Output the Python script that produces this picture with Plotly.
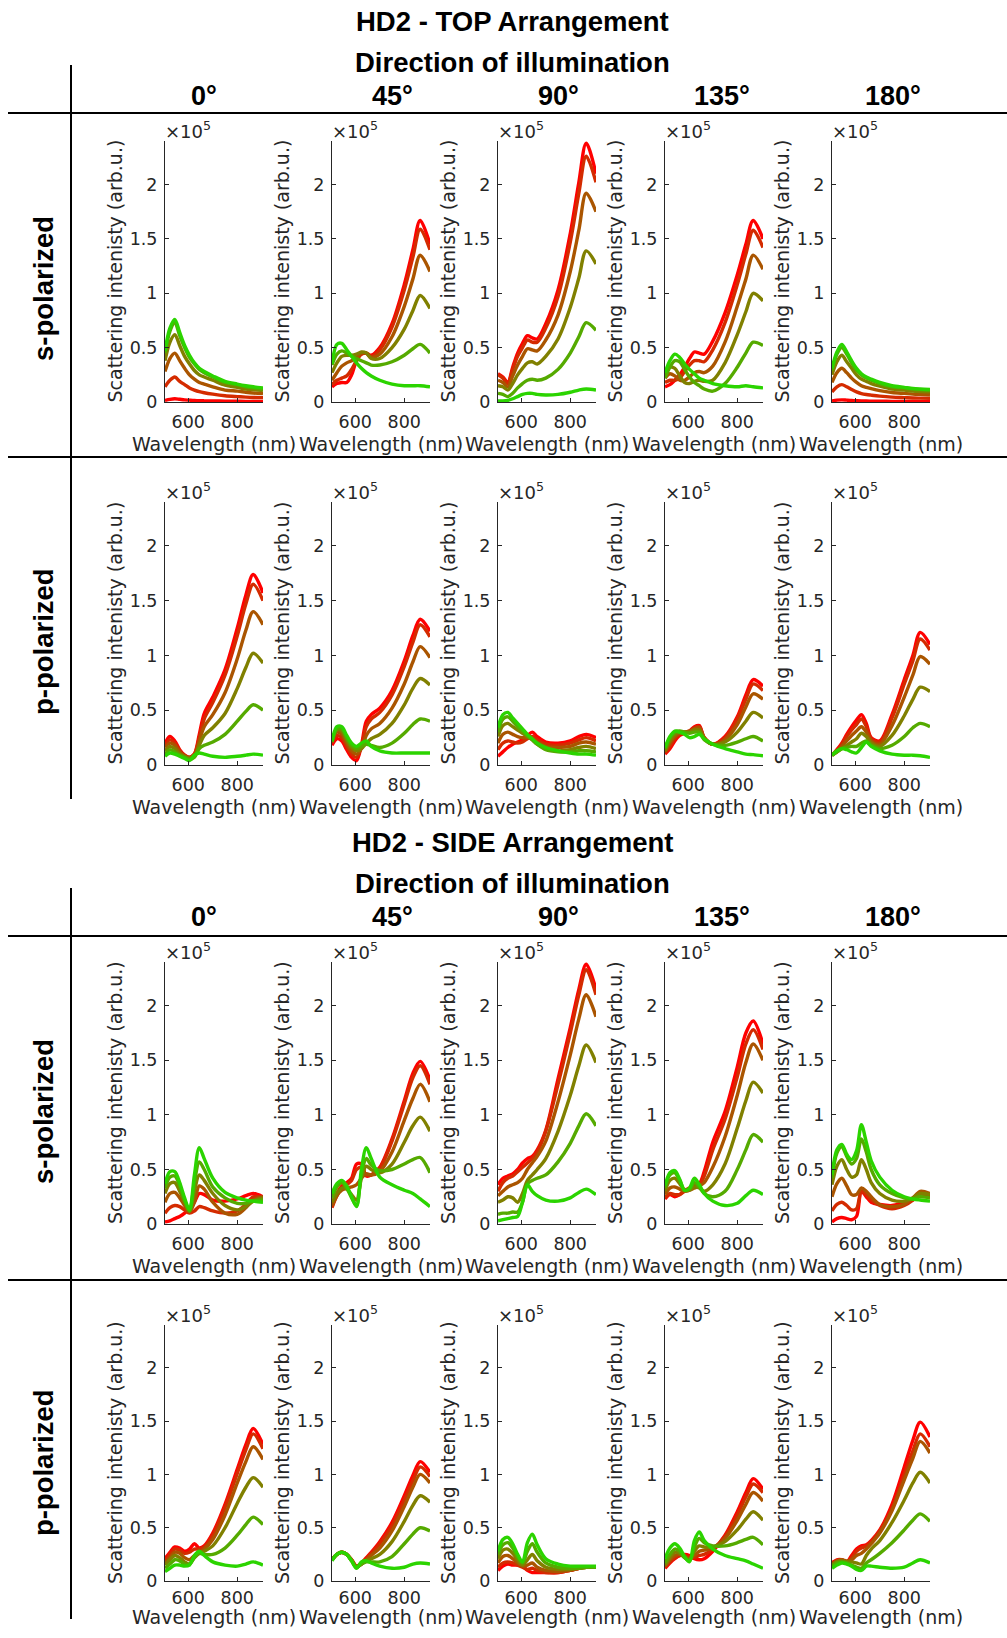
import plotly.graph_objects as go

# ---------------- data (intensity in units of 1e5 arb.u.) ----------------
WAVELENGTH = [505, 525, 545, 565, 585, 605, 625, 645, 665, 700, 750, 800, 835, 865, 905]
SERIES_COLORS = ["#ff0000", "#d42b00", "#aa5500", "#808000", "#55aa00", "#2bd400"]
COL_LABELS = ["0°", "45°", "90°", "135°", "180°"]
ROW_LABELS = ["s-polarized", "p-polarized", "s-polarized", "p-polarized"]
BLOCK_TITLES = ["HD2 - TOP Arrangement", "HD2 - SIDE Arrangement"]
X_TICKS = [600, 800]
Y_TICKS = [0, 0.5, 1, 1.5, 2]
Y_TICKTEXT = ["0", "0.5", "1", "1.5", "2"]

TOP_S_0 = [
    [0.015, 0.025, 0.03, 0.025, 0.02, 0.017, 0.014, 0.012, 0.011, 0.01, 0.008, 0.007, 0.006, 0.006, 0.005],
    [0.14, 0.20, 0.23, 0.19, 0.16, 0.13, 0.11, 0.095, 0.085, 0.072, 0.058, 0.05, 0.045, 0.042, 0.04],
    [0.28, 0.40, 0.45, 0.38, 0.31, 0.25, 0.21, 0.18, 0.165, 0.14, 0.11, 0.10, 0.09, 0.083, 0.077],
    [0.38, 0.55, 0.62, 0.52, 0.42, 0.35, 0.29, 0.25, 0.23, 0.20, 0.155, 0.135, 0.12, 0.115, 0.105],
    [0.45, 0.65, 0.73, 0.61, 0.50, 0.41, 0.35, 0.30, 0.27, 0.23, 0.18, 0.16, 0.14, 0.13, 0.12],
    [0.47, 0.68, 0.76, 0.64, 0.52, 0.43, 0.36, 0.31, 0.28, 0.24, 0.19, 0.165, 0.15, 0.14, 0.13],
]
TOP_S_45 = [
    [0.14, 0.17, 0.18, 0.18, 0.25, 0.38, 0.44, 0.45, 0.43, 0.50, 0.72, 1.08, 1.40, 1.67, 1.45],
    [0.16, 0.20, 0.22, 0.24, 0.30, 0.38, 0.44, 0.45, 0.42, 0.48, 0.69, 1.03, 1.33, 1.59, 1.40],
    [0.20, 0.27, 0.33, 0.36, 0.38, 0.41, 0.45, 0.45, 0.41, 0.44, 0.60, 0.88, 1.13, 1.35, 1.20],
    [0.27, 0.36, 0.42, 0.43, 0.43, 0.44, 0.46, 0.45, 0.40, 0.40, 0.50, 0.67, 0.84, 0.98, 0.86],
    [0.34, 0.44, 0.47, 0.45, 0.42, 0.40, 0.38, 0.36, 0.34, 0.34, 0.37, 0.43, 0.49, 0.53, 0.45],
    [0.35, 0.53, 0.54, 0.48, 0.42, 0.36, 0.31, 0.27, 0.24, 0.20, 0.165, 0.15, 0.15, 0.15, 0.14],
]
TOP_S_90 = [
    [0.26, 0.23, 0.18, 0.32, 0.45, 0.54, 0.61, 0.59, 0.58, 0.72, 1.03, 1.55, 2.02, 2.38, 2.10],
    [0.25, 0.22, 0.17, 0.30, 0.42, 0.50, 0.57, 0.55, 0.55, 0.68, 0.97, 1.47, 1.92, 2.26, 2.02],
    [0.20, 0.18, 0.14, 0.24, 0.34, 0.42, 0.49, 0.48, 0.47, 0.57, 0.80, 1.20, 1.58, 1.92, 1.75],
    [0.15, 0.14, 0.11, 0.17, 0.25, 0.31, 0.36, 0.37, 0.35, 0.42, 0.58, 0.87, 1.14, 1.39, 1.27],
    [0.08, 0.07, 0.05, 0.08, 0.13, 0.17, 0.20, 0.21, 0.20, 0.22, 0.30, 0.45, 0.60, 0.73, 0.66],
    [0.01, 0.01, 0.015, 0.03, 0.05, 0.07, 0.08, 0.08, 0.07, 0.065, 0.07, 0.09, 0.11, 0.12, 0.11],
]
TOP_S_135 = [
    [0.14, 0.16, 0.20, 0.25, 0.32, 0.40, 0.46, 0.45, 0.44, 0.56, 0.82, 1.17, 1.45, 1.67, 1.50],
    [0.18, 0.20, 0.20, 0.22, 0.28, 0.34, 0.38, 0.38, 0.37, 0.48, 0.73, 1.08, 1.36, 1.58, 1.42],
    [0.22, 0.26, 0.24, 0.20, 0.20, 0.23, 0.27, 0.28, 0.27, 0.33, 0.55, 0.88, 1.13, 1.35, 1.22],
    [0.25, 0.32, 0.31, 0.24, 0.18, 0.17, 0.19, 0.20, 0.19, 0.20, 0.36, 0.62, 0.83, 1.00, 0.93],
    [0.22, 0.32, 0.38, 0.37, 0.30, 0.23, 0.18, 0.15, 0.12, 0.10, 0.17, 0.32, 0.45, 0.55, 0.52],
    [0.27, 0.38, 0.44, 0.41, 0.35, 0.30, 0.26, 0.22, 0.20, 0.17, 0.15, 0.14, 0.15, 0.14, 0.13],
]
TOP_S_180 = [
    [0.01, 0.017, 0.02, 0.017, 0.014, 0.012, 0.01, 0.009, 0.008, 0.007, 0.006, 0.005, 0.005, 0.005, 0.004],
    [0.093, 0.14, 0.16, 0.14, 0.115, 0.093, 0.078, 0.069, 0.063, 0.054, 0.045, 0.04, 0.037, 0.036, 0.035],
    [0.18, 0.27, 0.31, 0.27, 0.22, 0.18, 0.15, 0.135, 0.123, 0.105, 0.088, 0.079, 0.073, 0.07, 0.067],
    [0.25, 0.37, 0.43, 0.37, 0.31, 0.25, 0.21, 0.19, 0.17, 0.146, 0.12, 0.11, 0.10, 0.097, 0.093],
    [0.29, 0.44, 0.50, 0.44, 0.36, 0.29, 0.25, 0.22, 0.20, 0.17, 0.14, 0.13, 0.12, 0.114, 0.11],
    [0.31, 0.46, 0.53, 0.46, 0.38, 0.31, 0.26, 0.23, 0.21, 0.18, 0.15, 0.135, 0.125, 0.12, 0.115],
]

TOP_P_0 = [
    [0.20, 0.26, 0.22, 0.14, 0.09, 0.07, 0.10, 0.28, 0.47, 0.62, 0.87, 1.25, 1.55, 1.74, 1.57],
    [0.18, 0.23, 0.20, 0.13, 0.09, 0.07, 0.10, 0.25, 0.42, 0.57, 0.82, 1.18, 1.47, 1.65, 1.50],
    [0.16, 0.20, 0.18, 0.12, 0.08, 0.07, 0.09, 0.22, 0.35, 0.46, 0.66, 0.97, 1.23, 1.40, 1.28],
    [0.13, 0.17, 0.15, 0.10, 0.08, 0.06, 0.08, 0.18, 0.27, 0.34, 0.47, 0.70, 0.89, 1.02, 0.93],
    [0.10, 0.14, 0.12, 0.09, 0.07, 0.05, 0.07, 0.15, 0.18, 0.21, 0.28, 0.40, 0.49, 0.55, 0.50],
    [0.08, 0.11, 0.10, 0.08, 0.06, 0.04, 0.09, 0.11, 0.10, 0.08, 0.07, 0.08, 0.09, 0.10, 0.09],
]
TOP_P_45 = [
    [0.18, 0.24, 0.22, 0.14, 0.07, 0.04, 0.18, 0.40, 0.46, 0.52, 0.68, 0.95, 1.18, 1.33, 1.22],
    [0.20, 0.27, 0.25, 0.17, 0.10, 0.07, 0.17, 0.35, 0.42, 0.48, 0.64, 0.90, 1.12, 1.28, 1.17],
    [0.22, 0.30, 0.28, 0.20, 0.13, 0.10, 0.15, 0.27, 0.33, 0.38, 0.52, 0.74, 0.94, 1.08, 0.98],
    [0.22, 0.32, 0.31, 0.23, 0.16, 0.13, 0.15, 0.20, 0.24, 0.28, 0.38, 0.55, 0.70, 0.79, 0.73],
    [0.21, 0.33, 0.33, 0.25, 0.18, 0.15, 0.17, 0.19, 0.18, 0.16, 0.20, 0.29, 0.37, 0.42, 0.40],
    [0.22, 0.35, 0.35, 0.27, 0.20, 0.17, 0.20, 0.22, 0.17, 0.13, 0.11, 0.11, 0.11, 0.11, 0.11],
]
TOP_P_90 = [
    [0.08, 0.12, 0.16, 0.19, 0.21, 0.23, 0.27, 0.30, 0.26, 0.21, 0.20, 0.22, 0.26, 0.28, 0.25],
    [0.14, 0.20, 0.22, 0.21, 0.20, 0.21, 0.24, 0.26, 0.23, 0.19, 0.18, 0.20, 0.23, 0.25, 0.22],
    [0.20, 0.28, 0.30, 0.28, 0.26, 0.25, 0.25, 0.24, 0.21, 0.17, 0.16, 0.17, 0.20, 0.21, 0.19],
    [0.26, 0.36, 0.38, 0.35, 0.32, 0.29, 0.26, 0.23, 0.19, 0.15, 0.13, 0.14, 0.16, 0.17, 0.15],
    [0.30, 0.42, 0.44, 0.40, 0.35, 0.31, 0.27, 0.23, 0.19, 0.14, 0.12, 0.12, 0.13, 0.13, 0.12],
    [0.34, 0.46, 0.48, 0.43, 0.38, 0.33, 0.28, 0.24, 0.20, 0.16, 0.13, 0.11, 0.10, 0.10, 0.09],
]
TOP_P_135 = [
    [0.10, 0.15, 0.22, 0.27, 0.29, 0.31, 0.35, 0.36, 0.25, 0.19, 0.26, 0.44, 0.64, 0.78, 0.72],
    [0.11, 0.17, 0.24, 0.28, 0.30, 0.31, 0.34, 0.35, 0.25, 0.19, 0.25, 0.42, 0.60, 0.74, 0.68],
    [0.12, 0.20, 0.26, 0.29, 0.30, 0.31, 0.33, 0.34, 0.25, 0.19, 0.23, 0.37, 0.53, 0.65, 0.60],
    [0.13, 0.22, 0.28, 0.30, 0.30, 0.30, 0.32, 0.32, 0.24, 0.19, 0.21, 0.30, 0.40, 0.48, 0.43],
    [0.15, 0.25, 0.30, 0.31, 0.30, 0.29, 0.30, 0.30, 0.23, 0.19, 0.18, 0.21, 0.24, 0.26, 0.22],
    [0.16, 0.26, 0.31, 0.30, 0.28, 0.25, 0.26, 0.28, 0.24, 0.19, 0.15, 0.12, 0.10, 0.095, 0.085],
]
TOP_P_180 = [
    [0.09, 0.14, 0.20, 0.28, 0.35, 0.41, 0.46, 0.38, 0.25, 0.22, 0.46, 0.78, 1.00, 1.21, 1.10],
    [0.09, 0.13, 0.19, 0.26, 0.32, 0.37, 0.42, 0.35, 0.24, 0.21, 0.43, 0.74, 0.95, 1.15, 1.05],
    [0.09, 0.12, 0.17, 0.22, 0.27, 0.31, 0.35, 0.30, 0.22, 0.19, 0.36, 0.62, 0.82, 0.99, 0.92],
    [0.09, 0.12, 0.15, 0.18, 0.21, 0.24, 0.29, 0.26, 0.20, 0.17, 0.27, 0.45, 0.60, 0.71, 0.67],
    [0.09, 0.12, 0.15, 0.16, 0.17, 0.17, 0.20, 0.22, 0.18, 0.15, 0.18, 0.26, 0.34, 0.38, 0.35],
    [0.09, 0.13, 0.15, 0.14, 0.12, 0.11, 0.16, 0.21, 0.17, 0.13, 0.10, 0.09, 0.09, 0.085, 0.07],
]

SIDE_S_0 = [
    [0.02, 0.03, 0.05, 0.07, 0.10, 0.14, 0.20, 0.28, 0.27, 0.22, 0.21, 0.23, 0.26, 0.28, 0.25],
    [0.10, 0.15, 0.17, 0.16, 0.13, 0.10, 0.12, 0.16, 0.15, 0.12, 0.10, 0.12, 0.18, 0.25, 0.24],
    [0.20, 0.28, 0.29, 0.24, 0.17, 0.11, 0.20, 0.35, 0.32, 0.20, 0.10, 0.09, 0.15, 0.22, 0.25],
    [0.28, 0.37, 0.38, 0.30, 0.20, 0.12, 0.30, 0.45, 0.40, 0.28, 0.17, 0.13, 0.16, 0.21, 0.24],
    [0.33, 0.43, 0.44, 0.35, 0.22, 0.12, 0.38, 0.57, 0.50, 0.34, 0.24, 0.19, 0.19, 0.21, 0.22],
    [0.37, 0.48, 0.48, 0.38, 0.24, 0.13, 0.45, 0.70, 0.60, 0.42, 0.29, 0.24, 0.22, 0.21, 0.20],
]
SIDE_S_45 = [
    [0.16, 0.28, 0.35, 0.38, 0.42, 0.55, 0.55, 0.44, 0.45, 0.52, 0.78, 1.13, 1.38, 1.49, 1.32],
    [0.15, 0.26, 0.33, 0.36, 0.40, 0.50, 0.52, 0.45, 0.45, 0.51, 0.76, 1.10, 1.34, 1.45, 1.28],
    [0.17, 0.26, 0.31, 0.33, 0.34, 0.36, 0.42, 0.46, 0.45, 0.48, 0.66, 0.95, 1.15, 1.28, 1.12],
    [0.20, 0.28, 0.33, 0.32, 0.27, 0.22, 0.42, 0.53, 0.50, 0.47, 0.55, 0.75, 0.90, 0.98, 0.85],
    [0.24, 0.34, 0.38, 0.33, 0.24, 0.17, 0.45, 0.60, 0.54, 0.49, 0.50, 0.55, 0.59, 0.61, 0.47],
    [0.28, 0.37, 0.40, 0.35, 0.25, 0.16, 0.50, 0.70, 0.60, 0.43, 0.36, 0.31, 0.28, 0.23, 0.16],
]
SIDE_S_90 = [
    [0.36, 0.42, 0.44, 0.46, 0.50, 0.56, 0.60, 0.62, 0.68, 0.86, 1.33, 1.80, 2.15, 2.38, 2.15],
    [0.30, 0.38, 0.42, 0.44, 0.48, 0.52, 0.56, 0.60, 0.66, 0.85, 1.28, 1.75, 2.10, 2.33, 2.10],
    [0.26, 0.30, 0.34, 0.36, 0.38, 0.42, 0.50, 0.56, 0.62, 0.76, 1.12, 1.55, 1.88, 2.10, 1.90],
    [0.20, 0.22, 0.25, 0.24, 0.20, 0.28, 0.40, 0.45, 0.50, 0.60, 0.85, 1.18, 1.45, 1.64, 1.48],
    [0.09, 0.10, 0.10, 0.11, 0.11, 0.20, 0.37, 0.40, 0.42, 0.45, 0.57, 0.74, 0.90, 1.01, 0.90],
    [0.03, 0.04, 0.05, 0.06, 0.07, 0.20, 0.36, 0.30, 0.26, 0.22, 0.21, 0.24, 0.29, 0.32, 0.27],
]
SIDE_S_135 = [
    [0.23, 0.27, 0.25, 0.27, 0.31, 0.33, 0.36, 0.37, 0.48, 0.75, 1.03, 1.44, 1.75, 1.86, 1.65],
    [0.24, 0.28, 0.27, 0.27, 0.30, 0.32, 0.35, 0.36, 0.44, 0.68, 0.96, 1.35, 1.65, 1.78, 1.60],
    [0.27, 0.33, 0.34, 0.32, 0.30, 0.31, 0.33, 0.35, 0.38, 0.52, 0.80, 1.18, 1.48, 1.65, 1.50],
    [0.30, 0.40, 0.42, 0.37, 0.31, 0.31, 0.34, 0.33, 0.30, 0.36, 0.55, 0.88, 1.13, 1.30, 1.20],
    [0.33, 0.45, 0.47, 0.40, 0.31, 0.32, 0.38, 0.34, 0.28, 0.25, 0.30, 0.50, 0.68, 0.82, 0.75],
    [0.35, 0.47, 0.49, 0.41, 0.31, 0.33, 0.42, 0.36, 0.28, 0.21, 0.17, 0.19, 0.26, 0.31, 0.27],
]
SIDE_S_180 = [
    [0.02, 0.05, 0.06, 0.05, 0.04, 0.07, 0.30, 0.25, 0.20, 0.18, 0.17, 0.20, 0.22, 0.27, 0.24],
    [0.12, 0.18, 0.20, 0.17, 0.13, 0.14, 0.30, 0.27, 0.22, 0.17, 0.14, 0.17, 0.22, 0.28, 0.26],
    [0.25, 0.37, 0.42, 0.35, 0.27, 0.27, 0.33, 0.30, 0.25, 0.18, 0.16, 0.18, 0.24, 0.30, 0.28],
    [0.36, 0.53, 0.59, 0.50, 0.43, 0.45, 0.59, 0.50, 0.38, 0.28, 0.22, 0.21, 0.24, 0.28, 0.27],
    [0.42, 0.65, 0.71, 0.62, 0.55, 0.60, 0.78, 0.66, 0.50, 0.36, 0.28, 0.24, 0.23, 0.25, 0.24],
    [0.45, 0.68, 0.73, 0.64, 0.59, 0.67, 0.91, 0.75, 0.58, 0.43, 0.31, 0.25, 0.23, 0.22, 0.21],
]

SIDE_P_0 = [
    [0.21, 0.27, 0.32, 0.31, 0.28, 0.30, 0.35, 0.31, 0.33, 0.45, 0.72, 1.05, 1.28, 1.43, 1.28],
    [0.19, 0.25, 0.30, 0.29, 0.26, 0.27, 0.30, 0.30, 0.32, 0.43, 0.69, 1.01, 1.23, 1.38, 1.24],
    [0.17, 0.22, 0.27, 0.26, 0.22, 0.20, 0.24, 0.27, 0.30, 0.39, 0.62, 0.92, 1.12, 1.26, 1.14],
    [0.15, 0.20, 0.24, 0.22, 0.18, 0.16, 0.22, 0.26, 0.28, 0.33, 0.50, 0.73, 0.88, 0.97, 0.88],
    [0.12, 0.16, 0.20, 0.19, 0.16, 0.16, 0.22, 0.26, 0.25, 0.25, 0.31, 0.43, 0.53, 0.60, 0.53],
    [0.09, 0.12, 0.15, 0.15, 0.14, 0.15, 0.24, 0.28, 0.24, 0.18, 0.15, 0.14, 0.16, 0.18, 0.15],
]
SIDE_P_45 = [
    [0.20, 0.25, 0.27, 0.25, 0.20, 0.14, 0.17, 0.22, 0.27, 0.37, 0.55, 0.80, 0.99, 1.12, 1.02],
    [0.20, 0.25, 0.27, 0.25, 0.20, 0.14, 0.16, 0.21, 0.26, 0.35, 0.52, 0.76, 0.94, 1.07, 0.98],
    [0.20, 0.25, 0.27, 0.25, 0.20, 0.13, 0.16, 0.20, 0.24, 0.31, 0.47, 0.70, 0.88, 1.00, 0.92],
    [0.20, 0.25, 0.27, 0.25, 0.19, 0.13, 0.16, 0.19, 0.21, 0.25, 0.37, 0.56, 0.71, 0.80, 0.74],
    [0.20, 0.25, 0.27, 0.25, 0.19, 0.13, 0.16, 0.18, 0.18, 0.18, 0.23, 0.35, 0.44, 0.50, 0.47],
    [0.19, 0.25, 0.27, 0.25, 0.19, 0.12, 0.18, 0.19, 0.17, 0.14, 0.12, 0.13, 0.16, 0.17, 0.16],
]
SIDE_P_90 = [
    [0.10, 0.14, 0.16, 0.15, 0.15, 0.14, 0.10, 0.08, 0.08, 0.08, 0.08, 0.10, 0.12, 0.13, 0.13],
    [0.13, 0.17, 0.18, 0.17, 0.15, 0.13, 0.11, 0.12, 0.10, 0.08, 0.08, 0.10, 0.12, 0.13, 0.13],
    [0.17, 0.23, 0.24, 0.21, 0.17, 0.14, 0.15, 0.17, 0.13, 0.10, 0.09, 0.10, 0.12, 0.13, 0.13],
    [0.21, 0.29, 0.30, 0.26, 0.20, 0.15, 0.20, 0.25, 0.19, 0.13, 0.11, 0.11, 0.12, 0.13, 0.13],
    [0.25, 0.34, 0.36, 0.31, 0.23, 0.17, 0.28, 0.35, 0.27, 0.17, 0.13, 0.12, 0.12, 0.13, 0.13],
    [0.28, 0.39, 0.41, 0.35, 0.25, 0.18, 0.36, 0.44, 0.34, 0.21, 0.16, 0.14, 0.14, 0.14, 0.14],
]
SIDE_P_135 = [
    [0.12, 0.17, 0.21, 0.24, 0.25, 0.24, 0.21, 0.20, 0.21, 0.28, 0.43, 0.65, 0.83, 0.96, 0.86],
    [0.13, 0.18, 0.22, 0.24, 0.24, 0.22, 0.22, 0.24, 0.25, 0.30, 0.42, 0.62, 0.79, 0.91, 0.83],
    [0.14, 0.20, 0.24, 0.25, 0.23, 0.21, 0.24, 0.28, 0.29, 0.31, 0.40, 0.57, 0.72, 0.83, 0.75],
    [0.15, 0.22, 0.27, 0.26, 0.22, 0.20, 0.28, 0.33, 0.32, 0.32, 0.37, 0.48, 0.58, 0.65, 0.57],
    [0.17, 0.25, 0.30, 0.28, 0.22, 0.19, 0.32, 0.40, 0.36, 0.33, 0.33, 0.36, 0.39, 0.41, 0.34],
    [0.21, 0.31, 0.35, 0.31, 0.23, 0.18, 0.38, 0.46, 0.38, 0.30, 0.24, 0.21, 0.19, 0.16, 0.12],
]
SIDE_P_180 = [
    [0.17, 0.20, 0.20, 0.18, 0.24, 0.30, 0.33, 0.34, 0.38, 0.48, 0.72, 1.07, 1.32, 1.49, 1.35],
    [0.17, 0.19, 0.20, 0.18, 0.22, 0.28, 0.31, 0.33, 0.37, 0.47, 0.68, 1.00, 1.22, 1.38, 1.26],
    [0.16, 0.19, 0.20, 0.19, 0.20, 0.24, 0.26, 0.30, 0.35, 0.45, 0.66, 0.95, 1.15, 1.31, 1.20],
    [0.15, 0.18, 0.19, 0.18, 0.18, 0.17, 0.16, 0.24, 0.30, 0.38, 0.55, 0.76, 0.92, 1.02, 0.92],
    [0.14, 0.17, 0.18, 0.17, 0.15, 0.13, 0.12, 0.17, 0.20, 0.26, 0.36, 0.48, 0.57, 0.63, 0.56],
    [0.12, 0.15, 0.17, 0.16, 0.14, 0.11, 0.10, 0.14, 0.14, 0.13, 0.12, 0.13, 0.17, 0.20, 0.17],
]

PANELS = [
    [TOP_S_0, TOP_S_45, TOP_S_90, TOP_S_135, TOP_S_180],
    [TOP_P_0, TOP_P_45, TOP_P_90, TOP_P_135, TOP_P_180],
    [SIDE_S_0, SIDE_S_45, SIDE_S_90, SIDE_S_135, SIDE_S_180],
    [SIDE_P_0, SIDE_P_45, SIDE_P_90, SIDE_P_135, SIDE_P_180],
]

# ---------------- layout geometry (pixels) ----------------
FW, FH = 1007, 1638
YS = 1.0062  # vertical calibration of the layout grid
COL_LEFT = [165, 332, 498, 665, 832]
AX_W = 98
ROW_TOP = [141, 502, 962, 1325]
ROW_ZERO = [402, 765, 1224, 1581]
XTITLE_Y = [444, 807, 1266, 1617]
XTICK_STANDOFF = [4, 4, 4, 1]
HEADER_X = [204, 392, 558, 722, 893]
BLOCK_LINE_Y = [113, 936]
BLOCK_TEXT_OFFSETS = [(-92, -51, -17), (-94, -53, -19)]
ROW_SEP_Y = [457, 1280]
VLINE = [(65, 799), (888, 1619)]
ROWLABEL_Y = [289, 642, 1112, 1463]

AXC = "#262626"
TICK_FONT = "DejaVu Sans"
BOLD_FONT = "Liberation Sans, Arial, sans-serif"


def px(x):
    return x / FW


def py(y):
    return max(0.0, 1 - (y * YS) / FH)


fig = go.Figure()
annotations = []
shapes = []

k = 0
for r in range(4):
    for c in range(5):
        k += 1
        suffix = "" if k == 1 else str(k)
        xa, ya = "x" + suffix, "y" + suffix
        for s, vals in enumerate(PANELS[r][c]):
            fig.add_trace(go.Scatter(
                x=WAVELENGTH, y=vals, mode="lines",
                line=dict(color=SERIES_COLORS[s], width=3.4, shape="spline", smoothing=0.9),
                xaxis=xa, yaxis=ya, showlegend=False, hoverinfo="skip"))
        L = COL_LEFT[c]
        common = dict(showline=True, linecolor=AXC, linewidth=1, ticks="inside", ticklen=4,
                      tickwidth=1, tickcolor=AXC, showgrid=False, zeroline=False,
                      tickfont=dict(family=TICK_FONT, size=17.5, color=AXC), fixedrange=True)
        fig.layout["xaxis" + suffix] = dict(domain=[px(L), px(L + AX_W)], range=[505, 905],
                                          tickvals=X_TICKS, anchor=ya,
                                          ticklabelstandoff=XTICK_STANDOFF[r], **common)
        fig.layout["yaxis" + suffix] = dict(domain=[py(ROW_ZERO[r]), py(ROW_TOP[r])], range=[0, 2.4],
                                          tickvals=Y_TICKS, ticktext=Y_TICKTEXT, anchor=xa,
                                          ticklabelstandoff=3, **common)
        # exponent label
        annotations.append(dict(x=px(L - 2), y=py(ROW_TOP[r] + 3), xref="paper", yref="paper",
                                xanchor="left", yanchor="bottom", showarrow=False,
                                text="×10<sup>5</sup>",
                                font=dict(family=TICK_FONT, size=18, color=AXC)))
        # y title
        annotations.append(dict(x=px(L - 50), y=py((ROW_TOP[r] + ROW_ZERO[r]) / 2), xref="paper",
                                yref="paper", xanchor="center", yanchor="middle", showarrow=False,
                                textangle=-90, text="Scattering intenisty (arb.u.)",
                                font=dict(family=TICK_FONT, size=19, color=AXC)))
        # x title
        annotations.append(dict(x=px(L + AX_W / 2), y=py(XTITLE_Y[r]), xref="paper",
                                yref="paper", xanchor="center", yanchor="middle", showarrow=False,
                                text="Wavelength (nm)",
                                font=dict(family=TICK_FONT, size=19, color=AXC)))

# block titles, headers, lines
for b in range(2):
    ly = BLOCK_LINE_Y[b]
    o_title, o_dir, o_head = BLOCK_TEXT_OFFSETS[b]
    annotations.append(dict(x=px(512), y=py(ly + o_title), xref="paper", yref="paper", showarrow=False,
                            xanchor="center", yanchor="middle", text="<b>" + BLOCK_TITLES[b] + "</b>",
                            font=dict(family=BOLD_FONT, size=27.5, color="black")))
    annotations.append(dict(x=px(512), y=py(ly + o_dir), xref="paper", yref="paper", showarrow=False,
                            xanchor="center", yanchor="middle", text="<b>Direction of illumination</b>",
                            font=dict(family=BOLD_FONT, size=27.5, color="black")))
    for c in range(5):
        annotations.append(dict(x=px(HEADER_X[c]), y=py(ly + o_head), xref="paper", yref="paper",
                                showarrow=False, xanchor="center", yanchor="middle",
                                text="<b>" + COL_LABELS[c] + "</b>",
                                font=dict(family=BOLD_FONT, size=27, color="black")))
    for yy in (ly, ROW_SEP_Y[b]):
        shapes.append(dict(type="line", xref="paper", yref="paper", x0=px(8), x1=1.0,
                           y0=py(yy), y1=py(yy), line=dict(color="black", width=2)))
    shapes.append(dict(type="line", xref="paper", yref="paper", x0=px(71), x1=px(71),
                       y0=py(VLINE[b][0]), y1=py(VLINE[b][1]), line=dict(color="black", width=2)))

for r in range(4):
    annotations.append(dict(x=px(43), y=py(ROWLABEL_Y[r]), xref="paper", yref="paper", showarrow=False,
                            xanchor="center", yanchor="middle", textangle=-90,
                            text="<b>" + ROW_LABELS[r] + "</b>",
                            font=dict(family=BOLD_FONT, size=27.5, color="black")))

fig.update_layout(width=FW, height=FH, margin=dict(l=0, r=0, t=0, b=0),
                  paper_bgcolor="white", plot_bgcolor="white",
                  annotations=annotations, shapes=shapes, showlegend=False)

RESET_JS = (
    "document.documentElement.style.margin='0';"
    "document.body.style.margin='0';"
)
fig.write_html("out.html", post_script=RESET_JS, config={"displayModeBar": False})
